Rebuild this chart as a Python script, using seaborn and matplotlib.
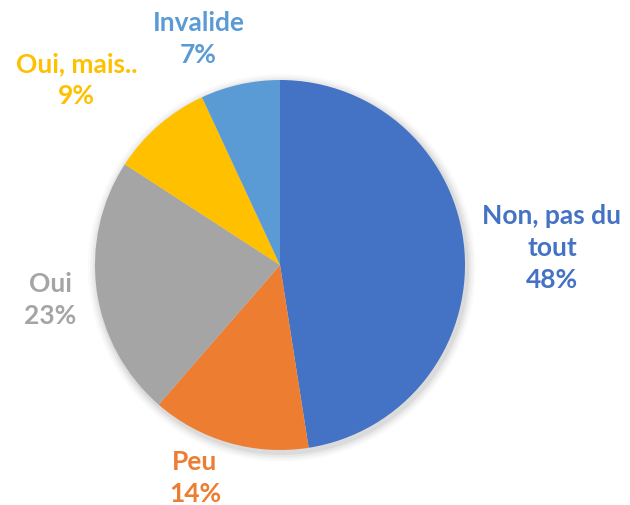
import matplotlib
matplotlib.use("Agg")
import matplotlib.pyplot as plt
import seaborn as sns

categories = ["Non, pas du\ntout", "Peu", "Oui", "Oui, mais..", "Invalide"]
shares = [48, 14, 23, 9, 7]
colors = ["#4472C4", "#ED7D31", "#A5A5A5", "#FFC000", "#5B9BD5"]

# label block centres, in pie-radius units relative to the pie centre
label_pos = [(1.47, 0.09), (-0.46, -1.15), (-1.24, -0.19), (-1.10, 1.00), (-0.44, 1.22)]

sns.set_theme(style="white")
plt.rcParams["font.family"] = ["Lato", "DejaVu Sans"]

fig = plt.figure(figsize=(6.3, 5.05), dpi=100)
ax = fig.add_axes([0, 0, 1, 1])
R = 185.0  # pixels per radius unit

# soft shadow
for i, a in enumerate([0.05, 0.04, 0.03, 0.02]):
    ax.add_patch(plt.Circle((0.01, -0.015), 1 + 0.012 * (i + 1), color="#000000", alpha=a, lw=0, zorder=0))

ax.pie(shares, colors=colors, startangle=90, counterclock=False, radius=1,
       frame=True, wedgeprops=dict(linewidth=0, zorder=1))
ax.set_xlim(-280 / R, 350 / R)
ax.set_ylim(-240 / R, 265 / R)
ax.set_aspect("auto")
ax.axis("off")

for name, val, col, (x, y) in zip(categories, shares, colors, label_pos):
    ax.text(x, y, f"{name}\n{val}%", color=col, ha="center", va="center",
            fontsize=19, fontweight="bold", linespacing=1.4)

fig.savefig("out.png", dpi=100)
